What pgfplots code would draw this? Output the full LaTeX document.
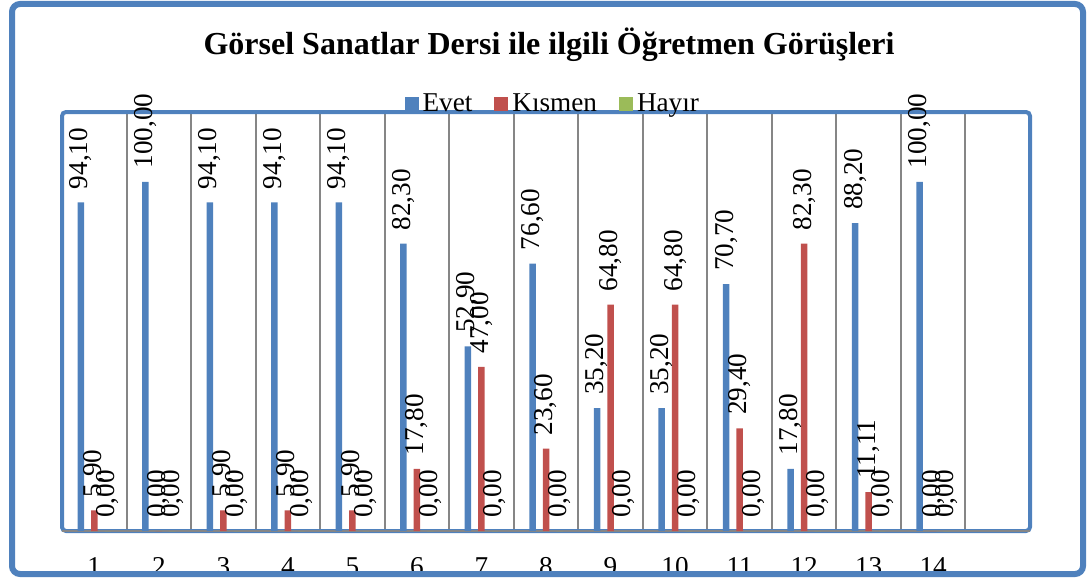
\documentclass[border=0pt]{standalone}
\usepackage{pgfplots}
\pgfplotsset{compat=1.18}
\usepackage{fontspec}
\setmainfont{Liberation Serif}
\definecolor{cblue}{RGB}{79,129,189}
\definecolor{cred}{RGB}{192,80,77}
\definecolor{cgreen}{RGB}{155,187,89}
\definecolor{cgrid}{RGB}{134,134,134}
\newcommand\lfont{\fontsize{13.6}{16}\selectfont}
\begin{document}
\begin{tikzpicture}
\useasboundingbox (0,0) rectangle (545pt,289.5pt);
\node[anchor=base, font=\bfseries\fontsize{16}{19}\selectfont] at (274.5pt,262pt) {Görsel Sanatlar Dersi ile ilgili Öğretmen Görüşleri};
\begin{axis}[
 at={(31pt,24pt)}, anchor=south west, scale only axis, width=484pt, height=209.5pt,
 ybar=3.5pt, bar width=3.25pt,
 xmin=0.5, xmax=15.5, ymin=0, ymax=120,
 xtick={1,...,14}, xticklabels={1,2,3,4,5,6,7,8,9,10,11,12,13,14},
 minor xtick={1.5,2.5,...,14.5}, xminorgrids=true, minor grid style={cgrid, line width=1pt},
 ytick=\empty,
 extra y ticks={0}, extra y tick labels={}, extra y tick style={grid=major, major grid style={cgrid, line width=1pt}},
 major tick length=0pt, minor tick length=0pt,
 axis line style={cblue, line width=2pt, rounded corners=2pt},
 xticklabel style={font=\lfont, anchor=north, inner sep=0pt, yshift=-13pt},
 clip=false,
 nodes near coords={\pgfmathprintnumber[fixed, fixed zerofill, precision=2, use comma, assume math mode=true]{\pgfplotspointmeta}},
 every node near coord/.append style={font=\lfont, rotate=90, anchor=west, inner xsep=6.5pt, inner ysep=0pt, text=black},
 legend style={at={(0.508,1.019)}, anchor=center, draw=none, fill=none, font=\lfont, legend columns=-1, inner sep=0pt, /tikz/every even column/.append style={column sep=9pt}},
 legend image code/.code={\fill[#1] (0pt,-3.5pt) rectangle (7pt,3.5pt);},
]
\addplot[fill=cblue, draw=none] coordinates {(1,94.10) (2,100.00) (3,94.10) (4,94.10) (5,94.10) (6,82.30) (7,52.90) (8,76.60) (9,35.20) (10,35.20) (11,70.70) (12,17.80) (13,88.20) (14,100.00)};
\addplot[fill=cred, draw=none] coordinates {(1,5.90) (2,0) (3,5.90) (4,5.90) (5,5.90) (6,17.80) (7,47.00) (8,23.60) (9,64.80) (10,64.80) (11,29.40) (12,82.30) (13,11.11) (14,0)};
\addplot[fill=cgreen, draw=none] coordinates {(1,0) (2,0) (3,0) (4,0) (5,0) (6,0) (7,0) (8,0) (9,0) (10,0) (11,0) (12,0) (13,0) (14,0)};
\legend{Evet,Kısmen,Hayır}
\end{axis}
\draw[cblue, line width=3pt, rounded corners=4pt] (6pt,2.5pt) rectangle (541.5pt,287.5pt);
\end{tikzpicture}
\end{document}
